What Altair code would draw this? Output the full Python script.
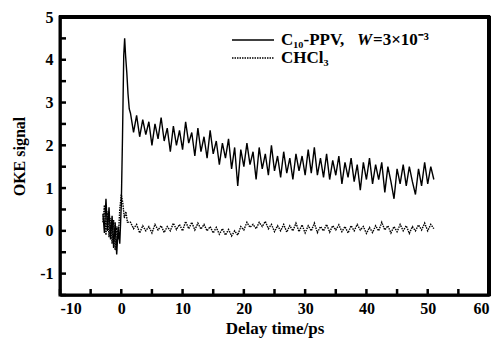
import altair as alt
import pandas as pd

# ---- data ----
ppv_t = [-3.0, -2.75, -2.5, -2.25, -2.0, -1.75, -1.5, -1.25, -1.0, -0.75, -0.5, -0.25,
         0.0, 0.2, 0.4, 0.55, 0.7, 0.9, 1.1, 1.3,
         1.5, 2.0, 2.5, 3.0, 3.5, 4.0, 4.5, 5.0, 5.5, 6.0, 6.5, 7.0, 7.5, 8.0, 8.5, 9.0, 9.5, 10.0,
         10.5, 11.0, 11.5, 12.0, 12.5, 13.0, 13.5, 14.0, 14.5, 15.0, 15.5, 16.0, 16.5, 17.0, 17.5, 18.0,
         18.5, 19.0, 19.5, 20.0, 20.5, 21.0, 21.5, 22.0, 22.5, 23.0, 23.5, 24.0, 24.5, 25.0, 25.5, 26.0,
         26.5, 27.0, 27.5, 28.0, 28.5, 29.0, 29.5, 30.0, 30.5, 31.0, 31.5, 32.0, 32.5, 33.0, 33.5, 34.0,
         34.5, 35.0, 35.5, 36.0, 36.5, 37.0, 37.5, 38.0, 38.5, 39.0, 39.5, 40.0, 40.5, 41.0, 41.5, 42.0,
         42.5, 43.0, 43.5, 44.0, 44.5, 45.0, 45.5, 46.0, 46.5, 47.0, 47.5, 48.0, 48.5, 49.0, 49.5, 50.0,
         50.5, 51.0]
ppv_v = [0.4, -0.05, 0.75, 0.0, 0.55, -0.2, 0.35, -0.4, 0.2, -0.55, 0.1, -0.3,
         0.6, 2.2, 4.1, 4.5, 4.1, 3.7, 3.2, 2.85,
         2.75, 2.3, 2.7, 2.2, 2.6, 2.25, 2.55, 2.0, 2.5, 2.15, 2.65, 2.1, 2.4, 1.85, 2.45, 2.0, 2.35, 1.9,
         2.55, 2.05, 2.3, 1.75, 2.4, 1.85, 2.2, 1.7, 2.35, 1.8, 2.1, 1.55, 2.05, 1.7, 2.15, 1.45,
         1.95, 1.05, 1.9, 1.5, 2.05, 1.55, 1.85, 1.2, 1.95, 1.45, 1.8, 1.3, 2.0, 1.4, 1.75, 1.25,
         1.85, 1.35, 1.7, 1.2, 1.8, 1.4, 1.75, 1.3, 1.9, 1.35, 1.95, 1.3, 1.7, 1.25, 1.8, 1.2,
         1.65, 1.3, 1.75, 1.1, 1.6, 1.25, 1.7, 1.15, 1.55, 0.95, 1.6, 1.2, 1.7, 1.1, 1.55, 1.2,
         1.6, 0.9, 1.5, 1.15, 0.75, 1.45, 1.1, 1.55, 1.05, 1.5, 1.15, 0.85, 1.45, 1.05, 1.6, 1.1,
         1.5, 1.2]

chcl_t = [-3.0, -2.75, -2.5, -2.25, -2.0, -1.75, -1.5, -1.25, -1.0, -0.75, -0.5, -0.25,
          0.0, 0.25, 0.5, 0.75, 1.0,
          1.5, 2.0, 2.5, 3.0, 3.5, 4.0, 4.5, 5.0, 5.5, 6.0, 6.5, 7.0, 7.5, 8.0, 8.5, 9.0, 9.5, 10.0,
          10.5, 11.0, 11.5, 12.0, 12.5, 13.0, 13.5, 14.0, 14.5, 15.0, 15.5, 16.0, 16.5, 17.0, 17.5, 18.0,
          18.5, 19.0, 19.5, 20.0, 20.5, 21.0, 21.5, 22.0, 22.5, 23.0, 23.5, 24.0, 24.5, 25.0, 25.5, 26.0,
          26.5, 27.0, 27.5, 28.0, 28.5, 29.0, 29.5, 30.0, 30.5, 31.0, 31.5, 32.0, 32.5, 33.0, 33.5, 34.0,
          34.5, 35.0, 35.5, 36.0, 36.5, 37.0, 37.5, 38.0, 38.5, 39.0, 39.5, 40.0, 40.5, 41.0, 41.5, 42.0,
          42.5, 43.0, 43.5, 44.0, 44.5, 45.0, 45.5, 46.0, 46.5, 47.0, 47.5, 48.0, 48.5, 49.0, 49.5, 50.0,
          50.5, 51.0]
chcl_v = [0.2, 0.6, -0.1, 0.45, -0.15, 0.3, -0.3, 0.25, -0.45, 0.1, -0.2, 0.5,
          0.85, 0.65, 0.3, 0.45, 0.2,
          0.2, 0.05, 0.15, -0.05, 0.12, 0.0, 0.1, -0.05, 0.15, 0.02, 0.12, -0.04, 0.1, 0.0, 0.18, 0.03, 0.15, 0.0,
          0.22, 0.05, 0.2, 0.02, 0.18, 0.04, 0.15, 0.0, 0.1, -0.05, 0.08, -0.08, 0.05, -0.1, 0.03, -0.12,
          0.0, -0.1, 0.1, 0.02, 0.2, 0.08, 0.15, 0.05, 0.2, 0.1, 0.22, 0.05, 0.15, -0.02, 0.12, 0.0,
          0.15, -0.03, 0.12, 0.0, 0.18, -0.02, 0.14, -0.05, 0.12, 0.0, 0.18, -0.04, 0.1, 0.0, 0.15, -0.03,
          0.12, 0.02, 0.14, -0.02, 0.1, -0.05, 0.12, 0.0, 0.15, 0.02, 0.1, -0.06, 0.08, -0.04, 0.12, 0.0,
          0.2, 0.02, 0.12, -0.05, 0.1, -0.02, 0.15, 0.0, 0.12, -0.06, 0.1, 0.0, 0.14, 0.02, 0.18, 0.0,
          0.15, 0.05]

x_ticks = [-10, -5, 0, 5, 10, 15, 20, 25, 30, 35, 40, 45, 50, 55, 60]
y_ticks = [-1.5, -1.0, -0.5, 0.0, 0.5, 1.0, 1.5, 2.0, 2.5, 3.0, 3.5, 4.0, 4.5, 5.0]
x_labels = [-10, 0, 10, 20, 30, 40, 50, 60]
y_labels = [-1, 0, 1, 2, 3, 4, 5]

W, H = 429, 278
FONT = "Liberation Serif"

ppv = pd.DataFrame({"t": ppv_t, "v": ppv_v})
chcl = pd.DataFrame({"t": chcl_t, "v": chcl_v})

xscale = alt.Scale(domain=[-10, 60], nice=False, zero=False)
yscale = alt.Scale(domain=[-1.5, 5], nice=False, zero=False)

xaxis = alt.Axis(values=x_labels, title="Delay time/ps", ticks=False, grid=False,
                 labelExpr="'' + datum.value", labelPadding=5,
                 titleX=W / 2, titleY=33, titleBaseline="middle")
yaxis = alt.Axis(values=y_labels, title="OKE signal", ticks=False, grid=False,
                 labelExpr="'' + datum.value", labelPadding=7, titleFontSize=16,
                 titleX=-41, titleY=H / 2, titleAngle=270, titleAlign="center", titleBaseline="middle")

main = alt.Chart(ppv).mark_line(color="black", strokeWidth=1.4).encode(
    x=alt.X("t:Q", scale=xscale, axis=xaxis),
    y=alt.Y("v:Q", scale=yscale, axis=yaxis),
)
solv = alt.Chart(chcl).mark_line(color="black", strokeWidth=1.4, strokeDash=[1.5, 1.0]).encode(
    x=alt.X("t:Q", scale=xscale),
    y=alt.Y("v:Q", scale=yscale),
)

# inward ticks (drawn as rules from the tick lists)
xt = alt.Chart(pd.DataFrame({"tx": x_ticks})).mark_rule(color="#000000", strokeWidth=2.5).encode(
    x=alt.X("tx:Q", scale=xscale), y=alt.value(H), y2=alt.value(H - 6))
yt = alt.Chart(pd.DataFrame({"ty": y_ticks})).mark_rule(color="#000000", strokeWidth=2.5).encode(
    y=alt.Y("ty:Q", scale=yscale), x=alt.value(0), x2=alt.value(6))

# top and right frame lines
fr = pd.DataFrame({"b": [1]})
frame_top = alt.Chart(fr).mark_rule(color="#000000", strokeWidth=4).encode(
    x=alt.value(-1), x2=alt.value(W + 1), y=alt.value(0))
frame_right = alt.Chart(fr).mark_rule(color="#000000", strokeWidth=4).encode(
    x=alt.value(W), y=alt.value(-1), y2=alt.value(H + 1))

one = pd.DataFrame({"a": [0]})
leg1 = alt.Chart(one).mark_rule(color="black", strokeWidth=1.4).encode(
    x=alt.value(172), x2=alt.value(214), y=alt.value(23))
leg2 = alt.Chart(one).mark_rule(color="black", strokeWidth=1.4, strokeDash=[1.5, 1.0]).encode(
    x=alt.value(172), x2=alt.value(214), y=alt.value(41))

txt_style = dict(font=FONT, fontSize=17, fontWeight="bold", align="left", baseline="middle", color="black")
t1 = alt.Chart(one).mark_text(text="C₁₀-PPV,", **txt_style).encode(x=alt.value(221), y=alt.value(23))
t2 = alt.Chart(one).mark_text(text="W", fontStyle="italic", **txt_style).encode(x=alt.value(297), y=alt.value(23))
t3 = alt.Chart(one).mark_text(text="=3×10⁻³", **txt_style).encode(x=alt.value(313), y=alt.value(23))
t4 = alt.Chart(one).mark_text(text="CHCl₃", **txt_style).encode(x=alt.value(221), y=alt.value(41))

chart = alt.layer(frame_top, frame_right, xt, yt, main, solv, leg1, leg2, t1, t2, t3, t4).properties(
    width=W, height=H,
    autosize=alt.AutoSizeParams(type="none"),
    padding={"left": 52, "top": 9, "right": 2, "bottom": 44},
).configure_view(stroke="#000000", strokeWidth=3).configure_axis(
    labelFont=FONT, labelFontSize=16, labelFontWeight="bold", labelColor="black",
    titleFont=FONT, titleFontSize=17, titleFontWeight="bold", titleColor="black",
    domainColor="black", domainWidth=2.5, grid=False,
)

chart.save("out.html", embed_options={"renderer": "svg", "actions": False})
